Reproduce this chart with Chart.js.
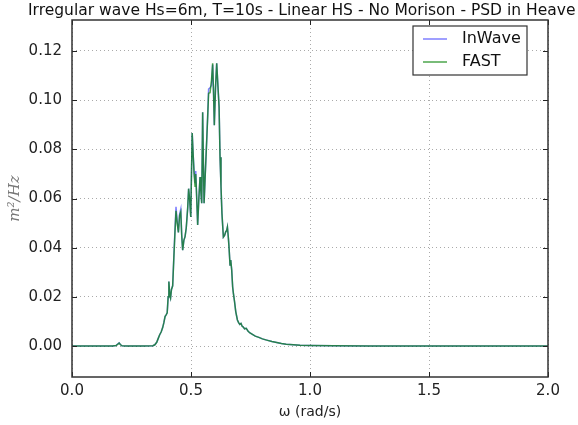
<!DOCTYPE html>
<html>
<head>
<meta charset="utf-8">
<script src="https://cdn.jsdelivr.net/npm/chart.js@4/dist/chart.umd.min.js"></script>
<style>
  html, body { margin: 0; padding: 0; background: #fff; overflow: hidden; }
  #wrap { width: 578px; height: 425px; position: relative; }
</style>
</head>
<body>
<div id="wrap"><canvas id="psd"></canvas></div>
<script>
// ---- data ----
const omega = [
  0.000, 0.100, 0.170, 0.185, 0.193, 0.198, 0.203, 0.210, 0.230, 0.300,
  0.340, 0.348, 0.356, 0.362, 0.368, 0.375, 0.381, 0.386, 0.391, 0.396,
  0.400, 0.404, 0.407, 0.411, 0.414, 0.418, 0.423, 0.428, 0.433, 0.437,
  0.442, 0.447, 0.452, 0.457, 0.461, 0.465, 0.470, 0.475, 0.480, 0.486,
  0.490, 0.494, 0.499, 0.502, 0.505, 0.509, 0.513, 0.517, 0.520, 0.524,
  0.528, 0.533, 0.538, 0.542, 0.545, 0.549, 0.552, 0.555, 0.560, 0.566,
  0.570, 0.574, 0.580, 0.586, 0.591, 0.595, 0.598, 0.603, 0.608, 0.613,
  0.618, 0.622, 0.626, 0.630, 0.636, 0.641, 0.646, 0.650, 0.653, 0.657,
  0.660, 0.664, 0.667, 0.671, 0.675, 0.678, 0.683, 0.688, 0.695, 0.700,
  0.705, 0.710, 0.715, 0.720, 0.725, 0.732, 0.740, 0.748, 0.758, 0.770,
  0.785, 0.800, 0.818, 0.840, 0.860, 0.880, 0.900, 0.930, 0.958, 1.000,
  1.100, 1.250, 1.500, 2.000
];

const psdFast = [
  0.0000, 0.0000, 0.0000, 0.0002, 0.0008, 0.0012, 0.0006, 0.0001, 0.0000, 0.0000,
  0.0001, 0.0005, 0.0015, 0.0030, 0.0045, 0.0058, 0.0075, 0.0095, 0.0120, 0.0128,
  0.0135, 0.0200, 0.0262, 0.0205, 0.0195, 0.0230, 0.0245, 0.0360, 0.0470, 0.0550,
  0.0500, 0.0462, 0.0530, 0.0545, 0.0450, 0.0390, 0.0430, 0.0445, 0.0480, 0.0560,
  0.0640, 0.0600, 0.0525, 0.0700, 0.0866, 0.0780, 0.0700, 0.0650, 0.0700, 0.0600,
  0.0492, 0.0600, 0.0687, 0.0620, 0.0581, 0.0951, 0.0750, 0.0581, 0.0700, 0.0837,
  0.0930, 0.1028, 0.1030, 0.1080, 0.1150, 0.1020, 0.0898, 0.1050, 0.1150, 0.1060,
  0.0972, 0.0768, 0.0650, 0.0540, 0.0443, 0.0450, 0.0465, 0.0470, 0.0484, 0.0440,
  0.0398, 0.0330, 0.0350, 0.0309, 0.0240, 0.0215, 0.0180, 0.0140, 0.0106, 0.0095,
  0.0088, 0.0092, 0.0080, 0.0077, 0.0070, 0.0072, 0.0060, 0.0053, 0.0047, 0.0040,
  0.0035, 0.0029, 0.0024, 0.0018, 0.0014, 0.0010, 0.0007, 0.0005, 0.0003, 0.0002,
  0.0001, 0.0000, 0.0000, 0.0000
];

const psdInWave = [
  0.0000, 0.0000, 0.0000, 0.0002, 0.0009, 0.0013, 0.0006, 0.0001, 0.0000, 0.0000,
  0.0001, 0.0005, 0.0015, 0.0030, 0.0045, 0.0058, 0.0075, 0.0095, 0.0120, 0.0128,
  0.0135, 0.0200, 0.0262, 0.0205, 0.0195, 0.0230, 0.0245, 0.0365, 0.0480, 0.0566,
  0.0505, 0.0462, 0.0535, 0.0556, 0.0450, 0.0390, 0.0430, 0.0445, 0.0480, 0.0560,
  0.0640, 0.0600, 0.0525, 0.0700, 0.0866, 0.0780, 0.0712, 0.0665, 0.0712, 0.0600,
  0.0492, 0.0600, 0.0687, 0.0620, 0.0581, 0.0951, 0.0750, 0.0581, 0.0700, 0.0837,
  0.0935, 0.1045, 0.1050, 0.1060, 0.1145, 0.1020, 0.0898, 0.1050, 0.1150, 0.1060,
  0.0972, 0.0768, 0.0650, 0.0540, 0.0443, 0.0450, 0.0465, 0.0470, 0.0484, 0.0440,
  0.0398, 0.0330, 0.0350, 0.0309, 0.0240, 0.0215, 0.0180, 0.0140, 0.0106, 0.0095,
  0.0088, 0.0092, 0.0080, 0.0077, 0.0070, 0.0072, 0.0060, 0.0053, 0.0047, 0.0040,
  0.0035, 0.0029, 0.0024, 0.0018, 0.0014, 0.0010, 0.0007, 0.0005, 0.0003, 0.0002,
  0.0001, 0.0000, 0.0000, 0.0000
];

const xTicks = [0.0, 0.5, 1.0, 1.5, 2.0];
const yTicks = [0.00, 0.02, 0.04, 0.06, 0.08, 0.10, 0.12];

const chartTitle = 'Irregular wave Hs=6m, T=10s - Linear HS - No Morison - PSD in Heave';
const seriesNames = ['InWave', 'FAST'];
const seriesColors = ['rgba(0, 0, 255, 0.5)', 'rgba(0, 128, 0, 0.7)'];

const FONT = '"DejaVu Sans", sans-serif';

// frame, inward ticks, title and legend drawn like matplotlib
const mplDecor = {
  id: 'mplDecor',
  afterDraw(chart) {
    const ctx = chart.ctx;
    const a = chart.chartArea;
    const xs = chart.scales.x, ys = chart.scales.y;
    ctx.save();

    // tick marks pointing inward on all four sides
    ctx.strokeStyle = '#222';
    ctx.lineWidth = 1;
    ctx.beginPath();
    xTicks.forEach(v => {
      const px = Math.round(xs.getPixelForValue(v)) + 0.5;
      ctx.moveTo(px, a.bottom); ctx.lineTo(px, a.bottom - 5);
      ctx.moveTo(px, a.top); ctx.lineTo(px, a.top + 5);
    });
    yTicks.forEach(v => {
      const py = Math.round(ys.getPixelForValue(v)) + 0.5;
      ctx.moveTo(a.left, py); ctx.lineTo(a.left + 5, py);
      ctx.moveTo(a.right, py); ctx.lineTo(a.right - 5, py);
    });
    ctx.stroke();

    // axes frame
    ctx.strokeStyle = '#333';
    ctx.lineWidth = 1.5;
    ctx.strokeRect(a.left, a.top, a.right - a.left, a.bottom - a.top);

    // title: spans from x=28 to the right edge of the page, like the original
    ctx.fillStyle = '#111';
    ctx.font = '16px ' + FONT;
    const tw = ctx.measureText(chartTitle).width;
    const size = 16 * 548 / tw;
    ctx.font = size.toFixed(2) + 'px ' + FONT;
    ctx.textAlign = 'left';
    ctx.textBaseline = 'alphabetic';
    ctx.fillText(chartTitle, 28, 15);

    // legend box in upper right
    const bx = 413, by = 26, bw = 114, bh = 49;
    ctx.fillStyle = '#fff';
    ctx.fillRect(bx, by, bw, bh);
    ctx.strokeStyle = '#333';
    ctx.lineWidth = 1.2;
    ctx.strokeRect(bx, by, bw, bh);
    ctx.font = '16px ' + FONT;
    ctx.textAlign = 'left';
    ctx.textBaseline = 'middle';
    seriesNames.forEach((name, i) => {
      const ly = by + 13 + i * 23;
      ctx.strokeStyle = seriesColors[i];
      ctx.lineWidth = 1.5;
      ctx.beginPath();
      ctx.moveTo(bx + 10, ly); ctx.lineTo(bx + 34, ly);
      ctx.stroke();
      ctx.fillStyle = '#111';
      ctx.fillText(name, bx + 49, ly);
    });
    ctx.restore();
  }
};

const ctx = document.getElementById('psd').getContext('2d');

new Chart(ctx, {
  type: 'line',
  data: {
    // FAST first so it is drawn on top of InWave
    datasets: [
      {
        label: seriesNames[1],
        data: omega.map((w, i) => ({ x: w, y: psdFast[i] })),
        borderColor: seriesColors[1],
        borderWidth: 1.5,
        pointRadius: 0,
        tension: 0,
        fill: false
      },
      {
        label: seriesNames[0],
        data: omega.map((w, i) => ({ x: w, y: psdInWave[i] })),
        borderColor: seriesColors[0],
        borderWidth: 1.5,
        pointRadius: 0,
        tension: 0,
        fill: false
      }
    ]
  },
  options: {
    responsive: true,
    maintainAspectRatio: false,
    animation: false,
    layout: { padding: { top: 20, right: 30, left: 0, bottom: 0 } },
    plugins: {
      legend: { display: false },
      title: { display: false },
      tooltip: { enabled: false }
    },
    scales: {
      x: {
        type: 'linear',
        min: 0,
        max: 2,
        afterBuildTicks: s => { s.ticks = xTicks.map(v => ({ value: v })); },
        afterFit: s => { s.height = 48; },
        grid: { color: '#aaa', lineWidth: 1, drawTicks: false },
        border: { display: false, dash: [1, 3] },
        ticks: {
          padding: 5,
          color: '#222',
          font: { family: FONT, size: 15 },
          callback: v => Number(v).toFixed(1)
        },
        title: {
          display: true,
          text: 'ω (rad/s)',
          color: '#222',
          font: { family: FONT, size: 14 },
          padding: { top: 0 }
        }
      },
      y: {
        type: 'linear',
        min: -0.0126,
        max: 0.1326,
        afterBuildTicks: s => { s.ticks = yTicks.map(v => ({ value: v })); },
        afterFit: s => { s.width = 72; },
        grid: { color: '#aaa', lineWidth: 1, drawTicks: false },
        border: { display: false, dash: [1, 3] },
        ticks: {
          padding: 10,
          color: '#222',
          font: { family: FONT, size: 15 },
          callback: v => Number(v).toFixed(2)
        },
        title: {
          display: true,
          text: 'm²/Hz',
          color: '#777',
          font: { family: '"DejaVu Serif", serif', size: 15, style: 'italic' },
          padding: { top: 6, bottom: 0 }
        }
      }
    }
  },
  plugins: [mplDecor]
});
</script>
</body>
</html>
